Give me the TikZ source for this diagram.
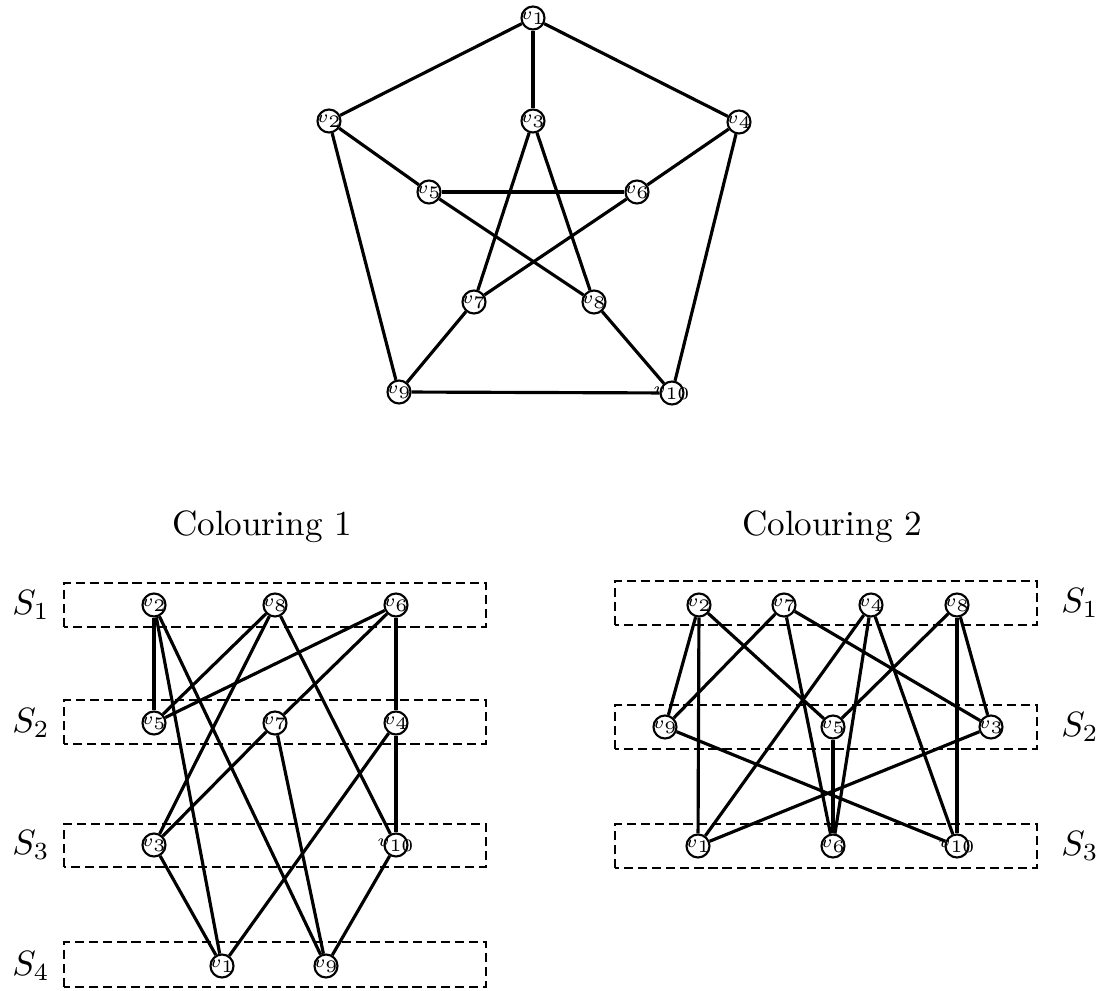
\documentclass[tikz,border=0pt]{standalone}
\usepackage{amsmath}

\tikzset{
  vtx/.style={circle,draw,line width=0.6pt,fill=white,inner sep=0pt,minimum size=0.23cm,
              label={[font=\fontsize{5.5}{6}\selectfont,inner sep=0pt]center:$v_{#1}$}},
  edge/.style={line width=0.9pt},
  setbox/.style={dash pattern=on 2.6pt off 1.4pt,line width=0.8pt}
}

\begin{document}
\begin{tikzpicture}
\useasboundingbox (0,0) rectangle (11.03,9.90);
% ---- Petersen graph ----
\foreach \n/\x/\y in {1/5.33/9.72,2/3.29/8.69,3/5.33/8.69,4/7.39/8.68,5/4.29/7.98,
                      6/6.37/7.98,7/4.74/6.88,8/5.94/6.88,9/3.99/5.98,10/6.72/5.97}
  \node[vtx=\n] (p\n) at (\x,\y) {};
\foreach \a/\b in {1/2,1/3,1/4,2/5,2/9,3/7,3/8,4/6,4/10,5/6,5/8,6/7,7/9,8/10,9/10}
  \draw[edge] (p\a) -- (p\b);
% ---- colouring 1 ----
\node (t1) at (2.62,4.63) {Colouring 1};
\foreach \i/\lo/\hi/\y in {1/3.63/4.07/3.85,2/2.46/2.90/2.67,3/1.23/1.66/1.45,4/0.03/0.48/0.24}{
  \draw[setbox] (0.64,\lo) rectangle (4.86,\hi);
  \node (sa\i) at (0.31,\y) {$S_{\i}$};}
\foreach \n/\x/\y in {2/1.54/3.85,8/2.75/3.85,6/3.96/3.85,5/1.54/2.67,7/2.75/2.67,4/3.96/2.67,
                      3/1.54/1.45,10/3.96/1.45,1/2.22/0.24,9/3.26/0.24}
  \node[vtx=\n] (a\n) at (\x,\y) {};
\foreach \a/\b in {2/5,2/1,2/9,8/5,8/3,8/10,6/5,6/7,6/4,7/3,7/9,4/1,4/10,3/1,10/9}
  \draw[edge] (a\a) -- (a\b);
% ---- colouring 2 ----
\node (t2) at (8.32,4.63) {Colouring 2};
\foreach \i/\lo/\hi/\y in {1/3.65/4.09/3.87,2/2.41/2.85/2.63,3/1.22/1.66/1.44}{
  \draw[setbox] (6.15,\lo) rectangle (10.37,\hi);
  \node (sb\i) at (10.80,\y) {$S_{\i}$};}
\foreach \n/\x/\y in {2/6.99/3.85,7/7.84/3.85,4/8.71/3.85,8/9.57/3.85,9/6.65/2.63,5/8.33/2.63,
                      3/9.91/2.63,1/6.98/1.44,6/8.33/1.44,10/9.57/1.44}
  \node[vtx=\n] (b\n) at (\x,\y) {};
\foreach \a/\b in {2/9,2/1,2/5,7/9,7/6,7/3,4/1,4/6,4/10,8/5,8/10,8/3,9/10,5/6,3/1}
  \draw[edge] (b\a) -- (b\b);
\end{tikzpicture}
\end{document}
